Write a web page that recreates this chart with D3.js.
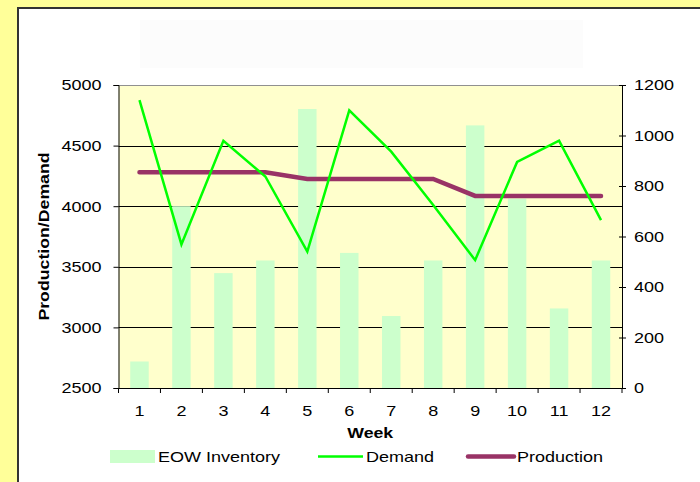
<!DOCTYPE html>
<html>
<head>
<meta charset="utf-8">
<script src="https://cdn.jsdelivr.net/npm/d3@7"></script>
<style>
  body { margin: 0; background: #FFFF99; }
  svg text { font-family: "Liberation Sans", Arial, sans-serif; fill: #000; }
</style>
</head>
<body>
<div id="chart"></div>
<script>
// chart values
var weeks = ['1', '2', '3', '4', '5', '6', '7', '8', '9', '10', '11', '12']
var inventory = [105, 720, 455, 505, 1105, 535, 285, 505, 1040, 750, 315, 505]
var demand = [4875, 3685, 4540, 4245, 3625, 4790, 4450, 4010, 3555, 4365, 4540, 3885]
var production = [4280, 4280, 4280, 4280, 4225, 4225, 4225, 4225, 4085, 4085, 4085, 4085]
var leftTicks = [2500, 3000, 3500, 4000, 4500, 5000]
var rightTicks = [0, 200, 400, 600, 800, 1000, 1200]
var series = ['EOW Inventory', 'Demand', 'Production']

var width = 700, height = 482
// note: "top" is taken by window.top, so plot edges get their own names
var plotLeft = 118.5, plotRight = 622, plotTop = 85, plotBottom = 388
var stretchK = 1.2

// make glyphs wider like the old screen font
function stretch(sel, k) {
    sel.each(function () {
        var w = this.getComputedTextLength()
        this.setAttribute('textLength', w * k)
        this.setAttribute('lengthAdjust', 'spacingAndGlyphs')
    })
}

var svg = d3.select('#chart').append('svg')
    .attr('width', width)
    .attr('height', height)

// chart area
svg.append('rect').attr('width', width).attr('height', height).attr('fill', '#FFFF99')
svg.append('rect')
    .attr('x', 18).attr('y', 8)
    .attr('width', width).attr('height', height)
    .attr('fill', '#fff').attr('stroke', '#333').attr('stroke-width', 2)
// empty title box
svg.append('rect')
    .attr('x', 140).attr('y', 20).attr('width', 443).attr('height', 48)
    .attr('fill', '#fcfcfc')

var x = d3.scaleBand()
    .domain(weeks)
    .range([plotLeft, plotRight])
    .paddingInner(0.56)
    .paddingOuter(0.28)
var yL = d3.scaleLinear().domain([2500, 5000]).range([plotBottom, plotTop])
var yR = d3.scaleLinear().domain([0, 1200]).range([plotBottom, plotTop])
var cx = function (d) { return x(d) + x.bandwidth() / 2 }

// plot area
svg.append('rect')
    .attr('x', plotLeft).attr('y', plotTop)
    .attr('width', plotRight - plotLeft).attr('height', plotBottom - plotTop)
    .attr('fill', '#FFFFCC')
svg.append('line')
    .attr('x1', plotLeft).attr('x2', plotRight).attr('y1', plotTop + 0.5).attr('y2', plotTop + 0.5)
    .attr('stroke', '#909090')

// gridlines
svg.append('g')
    .selectAll('line')
    .data(leftTicks.slice(1, -1))
    .enter()
    .append('line')
    .attr('x1', plotLeft).attr('x2', plotRight)
    .attr('y1', function (d) { return Math.round(yL(d)) + 0.5 })
    .attr('y2', function (d) { return Math.round(yL(d)) + 0.5 })
    .attr('stroke', '#000')

// inventory bars
svg.append('g')
    .selectAll('rect')
    .data(inventory)
    .enter()
    .append('rect')
    .attr('x', function (d, i) { return x(weeks[i]) })
    .attr('width', x.bandwidth())
    .attr('y', function (d) { return yR(d) })
    .attr('height', function (d) { return plotBottom - yR(d) })
    .attr('fill', '#CCFFCC')

// production line
svg.append('path')
    .datum(production)
    .attr('d', d3.line()
        .x(function (d, i) { return cx(weeks[i]) })
        .y(function (d) { return yL(d) }))
    .attr('fill', 'none')
    .attr('stroke', '#993366')
    .attr('stroke-width', 4.5)
    .attr('stroke-linecap', 'round')

// demand line
svg.append('path')
    .datum(demand)
    .attr('d', d3.line()
        .x(function (d, i) { return cx(weeks[i]) })
        .y(function (d) { return yL(d) }))
    .attr('fill', 'none')
    .attr('stroke', '#00FF00')
    .attr('stroke-width', 2.5)

// left axis
var gL = svg.append('g')
    .attr('transform', `translate(${plotLeft},0)`)
    .call(d3.axisLeft(yL).tickValues(leftTicks).tickFormat(d3.format('d')).tickSize(5).tickPadding(12))
gL.selectAll('text').style('font-size', '15px')
stretch(gL.selectAll('text'), stretchK)

// right axis, ticks cross the line
var gR = svg.append('g')
    .attr('transform', `translate(${plotRight},0)`)
    .call(d3.axisRight(yR).tickValues(rightTicks).tickFormat(d3.format('d')).tickSize(4).tickPadding(8))
gR.selectAll('.tick line').attr('x1', -3)
gR.selectAll('text').style('font-size', '15px')
stretch(gR.selectAll('text'), stretchK)

// bottom axis: labels at centers, ticks at boundaries
var gB = svg.append('g')
    .attr('transform', `translate(0,${plotBottom})`)
    .call(d3.axisBottom(x).tickSize(0).tickPadding(17))
gB.selectAll('text').style('font-size', '15px')
stretch(gB.selectAll('text'), stretchK)
gB.selectAll('.domain').attr('d', `M${plotLeft},0.5H${plotRight}`)
gB.append('g')
    .selectAll('line')
    .data(weeks.concat(['end']))
    .enter()
    .append('line')
    .attr('x1', function (d, i) { return i < weeks.length ? x(d) - x.step() * x.paddingInner() / 2 : plotRight })
    .attr('x2', function (d, i) { return i < weeks.length ? x(d) - x.step() * x.paddingInner() / 2 : plotRight })
    .attr('y1', 0).attr('y2', 5)
    .attr('stroke', '#000')
svg.selectAll('.domain').attr('stroke', '#000')

// axis titles
var yt = svg.append('text')
    .attr('transform', `translate(49,${(plotTop + plotBottom) / 2}) rotate(-90)`)
    .attr('text-anchor', 'middle')
    .style('font-size', '15px')
    .style('font-weight', 'bold')
    .text('Production/Demand')
stretch(yt, 1.18)
var xt = svg.append('text')
    .attr('x', (plotLeft + plotRight) / 2)
    .attr('y', 438)
    .attr('text-anchor', 'middle')
    .style('font-size', '15px')
    .style('font-weight', 'bold')
    .text('Week')
stretch(xt, 1.18)

// legend
var legend = svg.append('g')
legend.append('rect')
    .attr('x', 110).attr('y', 450).attr('width', 45).attr('height', 13)
    .attr('fill', '#CCFFCC')
legend.append('line')
    .attr('x1', 318).attr('x2', 363).attr('y1', 456.5).attr('y2', 456.5)
    .attr('stroke', '#00FF00').attr('stroke-width', 2.5)
legend.append('line')
    .attr('x1', 468).attr('x2', 514).attr('y1', 456.5).attr('y2', 456.5)
    .attr('stroke', '#993366').attr('stroke-width', 4.5).attr('stroke-linecap', 'round')
var lt = legend.selectAll('text.lg')
    .data(series)
    .enter()
    .append('text')
    .attr('class', 'lg')
    .attr('x', function (d, i) { return [158, 366, 517][i] })
    .attr('y', 462)
    .style('font-size', '15px')
    .text(function (d) { return d })
stretch(lt, stretchK)
</script>
</body>
</html>
